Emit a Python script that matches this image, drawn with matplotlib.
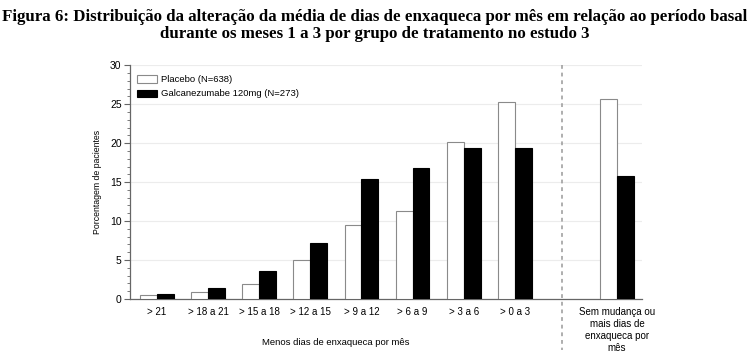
import numpy as np
import matplotlib.pyplot as plt
from matplotlib.ticker import MultipleLocator

categories = ['> 21', '> 18 a 21', '> 15 a 18', '> 12 a 15', '> 9 a 12',
              '> 6 a 9', '> 3 a 6', '> 0 a 3',
              'Sem mudança ou\nmais dias de\nenxaqueca por\nmês']
positions = [0, 1, 2, 3, 4, 5, 6, 7, 9]
placebo = [0.5, 0.85, 1.9, 5.0, 9.45, 11.3, 20.1, 25.3, 25.6]
galca = [0.6, 1.4, 3.6, 7.2, 15.35, 16.8, 19.4, 19.4, 15.8]

plt.rcParams['font.family'] = ['Liberation Sans', 'DejaVu Sans']

fig = plt.figure(figsize=(7.5, 3.56), dpi=100)
ax = fig.add_axes([0.1733, 0.160, 0.6827, 0.657])

x = np.array(positions, dtype=float)
w = 0.33
ax.bar(x - w / 2, placebo, width=w, color='white', edgecolor='#8a8a8a',
       linewidth=0.8, label='Placebo (N=638)', zorder=3)
ax.bar(x + w / 2, galca, width=w, color='black', edgecolor='black',
       linewidth=0.8, label='Galcanezumabe 120mg (N=273)', zorder=3)

ax.set_xlim(-0.53, 9.49)
ax.set_ylim(0, 30)
ax.yaxis.set_major_locator(MultipleLocator(5))
ax.yaxis.set_minor_locator(MultipleLocator(1))
ax.grid(axis='y', color='#ececec', linewidth=0.8, zorder=0)

ax.set_xticks(x)
ax.set_xticklabels(categories, fontsize=7, va='top', linespacing=1.25)
ax.tick_params(axis='x', length=0, pad=6)
ax.tick_params(axis='y', which='major', labelsize=7.5, length=4, width=0.8,
               color='#666666', pad=2)
ax.tick_params(axis='y', which='minor', length=2, width=0.6, color='#666666')

for s in ['top', 'right']:
    ax.spines[s].set_visible(False)
for s in ['left', 'bottom']:
    ax.spines[s].set_color('#666666')
    ax.spines[s].set_linewidth(0.9)

ax.set_ylabel('Porcentagem de pacientes', fontsize=6.3, labelpad=6)
ax.text(3.5, -0.165, 'Menos dias de enxaqueca por mês', transform=ax.get_xaxis_transform(),
        ha='center', va='top', fontsize=6.8)

# separator between the two groups
ax.plot([7.93, 7.93], [1.0, -0.22], transform=ax.get_xaxis_transform(),
        color='#999999', linestyle=(0, (2.5, 2.5)), linewidth=1.1, clip_on=False, zorder=4)

ax.legend(loc='upper left', bbox_to_anchor=(0.0, 0.985), frameon=False, fontsize=6.8,
          handlelength=2.2, handleheight=0.8, handletextpad=0.4, labelspacing=0.55,
          borderaxespad=0.3)

fig.suptitle('Figura 6: Distribuição da alteração da média de dias de enxaqueca por mês em relação ao período basal\n'
             'durante os meses 1 a 3 por grupo de tratamento no estudo 3',
             x=0.5, y=0.975, fontsize=12.2, fontweight='bold', family='Liberation Serif',
             linespacing=1.1)

fig.savefig('out.png', dpi=100)
